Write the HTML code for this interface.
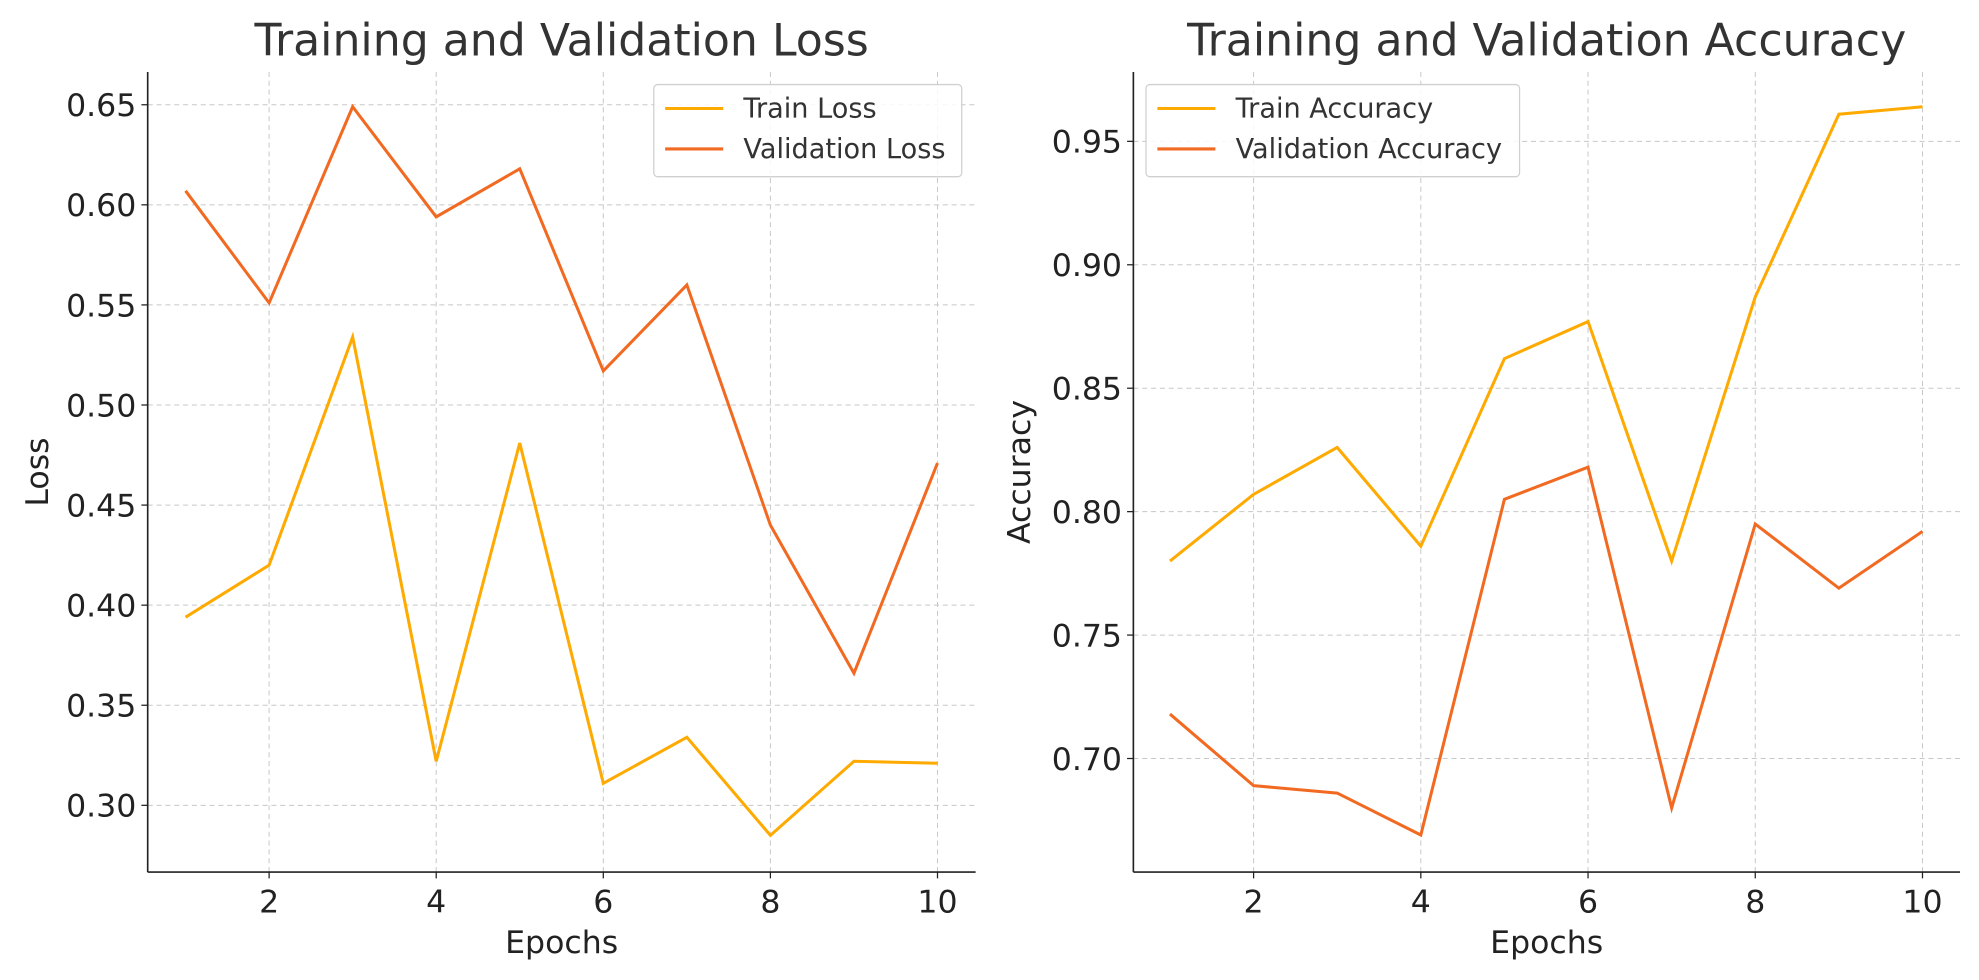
<!DOCTYPE html>
<html><head><meta charset="utf-8">
<style>html,body{margin:0;padding:0;background:#fff;}svg{display:block;font-family:"DejaVu Sans","Liberation Sans",sans-serif;}</style>
</head><body>
<svg id="chart" width="1979" height="980" viewBox="0 0 1568 776.5" xmlns="http://www.w3.org/2000/svg"></svg>
<script>
const epochs = [1,2,3,4,5,6,7,8,9,10];
const trainLoss = [0.394,0.420,0.534,0.322,0.481,0.311,0.334,0.285,0.322,0.321];
const valLoss = [0.607,0.551,0.649,0.594,0.618,0.517,0.560,0.440,0.366,0.471];
const trainAcc = [0.780,0.807,0.826,0.786,0.862,0.877,0.780,0.887,0.961,0.964];
const valAcc = [0.718,0.689,0.686,0.669,0.805,0.818,0.680,0.795,0.769,0.792];
const xTicks = [2,4,6,8,10];
const lossTicks = [0.30,0.35,0.40,0.45,0.50,0.55,0.60,0.65];
const accTicks = [0.70,0.75,0.80,0.85,0.90,0.95];

const NS='http://www.w3.org/2000/svg';
const svg=document.getElementById('chart');
function mk(tag,attrs,parent){const e=document.createElementNS(NS,tag);for(const k in attrs)e.setAttribute(k,attrs[k]);(parent||svg).appendChild(e);return e;}

function panel(cfg){
  const g=mk('g',{});
  
  
  const xs=v=>cfg.x1+(v-1)*cfg.xstep;
  const ys=v=>cfg.y0-(v-cfg.v0)/0.05*cfg.ystep;
  xTicks.forEach(t=>{
    const l=mk('line',{x1:xs(t),x2:xs(t),y1:cfg.top,y2:cfg.bottom,stroke:'#c8c8c8','stroke-width':0.8,'stroke-dasharray':'4,3'},g);
    
    
    mk('line',{x1:xs(t),x2:xs(t),y1:cfg.bottom,y2:cfg.bottom+5,stroke:'#222','stroke-width':1},g);
    const tx=mk('text',{x:xs(t),y:cfg.bottom+32,'text-anchor':'middle','font-size':25,fill:'#222'},g);
    tx.textContent=t;
    
    
  });
  cfg.ticks.forEach(t=>{
    const l=mk('line',{x1:cfg.left,x2:cfg.right,y1:ys(t),y2:ys(t),stroke:'#c8c8c8','stroke-width':0.8,'stroke-dasharray':'4,3'},g);
    
    
    mk('line',{x1:cfg.left-5,x2:cfg.left,y1:ys(t),y2:ys(t),stroke:'#222','stroke-width':1},g);
    const tx=mk('text',{x:cfg.left-9,y:ys(t)+9,'text-anchor':'end','font-size':25,fill:'#222'},g);
    tx.textContent=t.toFixed(2);
    
    
  });
  mk('line',{x1:cfg.left,x2:cfg.left,y1:cfg.top,y2:cfg.bottom,stroke:'#222','stroke-width':1.3},g);
  mk('line',{x1:cfg.left,x2:cfg.right,y1:cfg.bottom,y2:cfg.bottom,stroke:'#222','stroke-width':1.3},g);
  cfg.series.forEach(s=>{
    const p=mk('polyline',{points:s.data.map((v,i)=>xs(epochs[i])+','+ys(v)).join(' '),fill:'none',stroke:s.color,'stroke-width':2.4,'stroke-linejoin':'miter'},g);
    
    
  });
  const ti=mk('text',{x:(cfg.left+cfg.right)/2,y:44,'text-anchor':'middle','font-size':35,fill:'#333'},g);
  ti.textContent=cfg.title;
  
  
  const xl=mk('text',{x:(cfg.left+cfg.right)/2,y:755,'text-anchor':'middle','font-size':25,fill:'#222'},g);
  xl.textContent='Epochs';
  
  
  const yl=mk('text',{x:0,y:0,'text-anchor':'middle','font-size':25,fill:'#222',transform:`translate(${cfg.ylx},${(cfg.top+cfg.bottom)/2}) rotate(-90)`},g);
  yl.textContent=cfg.ylabel;
  
  
  const lg=mk('g',{},g);
  
  
  mk('rect',{x:cfg.lx,y:67,width:cfg.lw,height:73,rx:3,fill:'#fff','fill-opacity':0.85,stroke:'#d0d0d0','stroke-width':1},lg);
  cfg.series.forEach((s,i)=>{
    const y=86+i*32;
    mk('line',{x1:cfg.lx+9,x2:cfg.lx+55,y1:y,y2:y,stroke:s.color,'stroke-width':2.4},lg);
    const t=mk('text',{x:cfg.lx+71,y:y+7,'font-size':21.5,fill:'#333'},lg);
    t.textContent=s.label;
    
    
  });
}
const C1='#FFAA00', C2='#F26A22';
panel({name:'loss-chart',left:117,right:773,top:57,bottom:691,x1:147,xstep:66.2,v0:0.65,y0:83,ystep:79.3,ticks:lossTicks,
  title:'Training and Validation Loss',ylabel:'Loss',ylx:38,lx:518,lw:244,
  series:[{id:'train-loss-line',label:'Train Loss',data:trainLoss,color:C1},{id:'validation-loss-line',label:'Validation Loss',data:valLoss,color:C2}]});
panel({name:'accuracy-chart',left:898,right:1553,top:57,bottom:691,x1:927,xstep:66.25,v0:0.95,y0:112,ystep:97.8,ticks:accTicks,
  title:'Training and Validation Accuracy',ylabel:'Accuracy',ylx:816,lx:908,lw:296,
  series:[{id:'train-accuracy-line',label:'Train Accuracy',data:trainAcc,color:C1},{id:'validation-accuracy-line',label:'Validation Accuracy',data:valAcc,color:C2}]});
</script>
</body></html>
